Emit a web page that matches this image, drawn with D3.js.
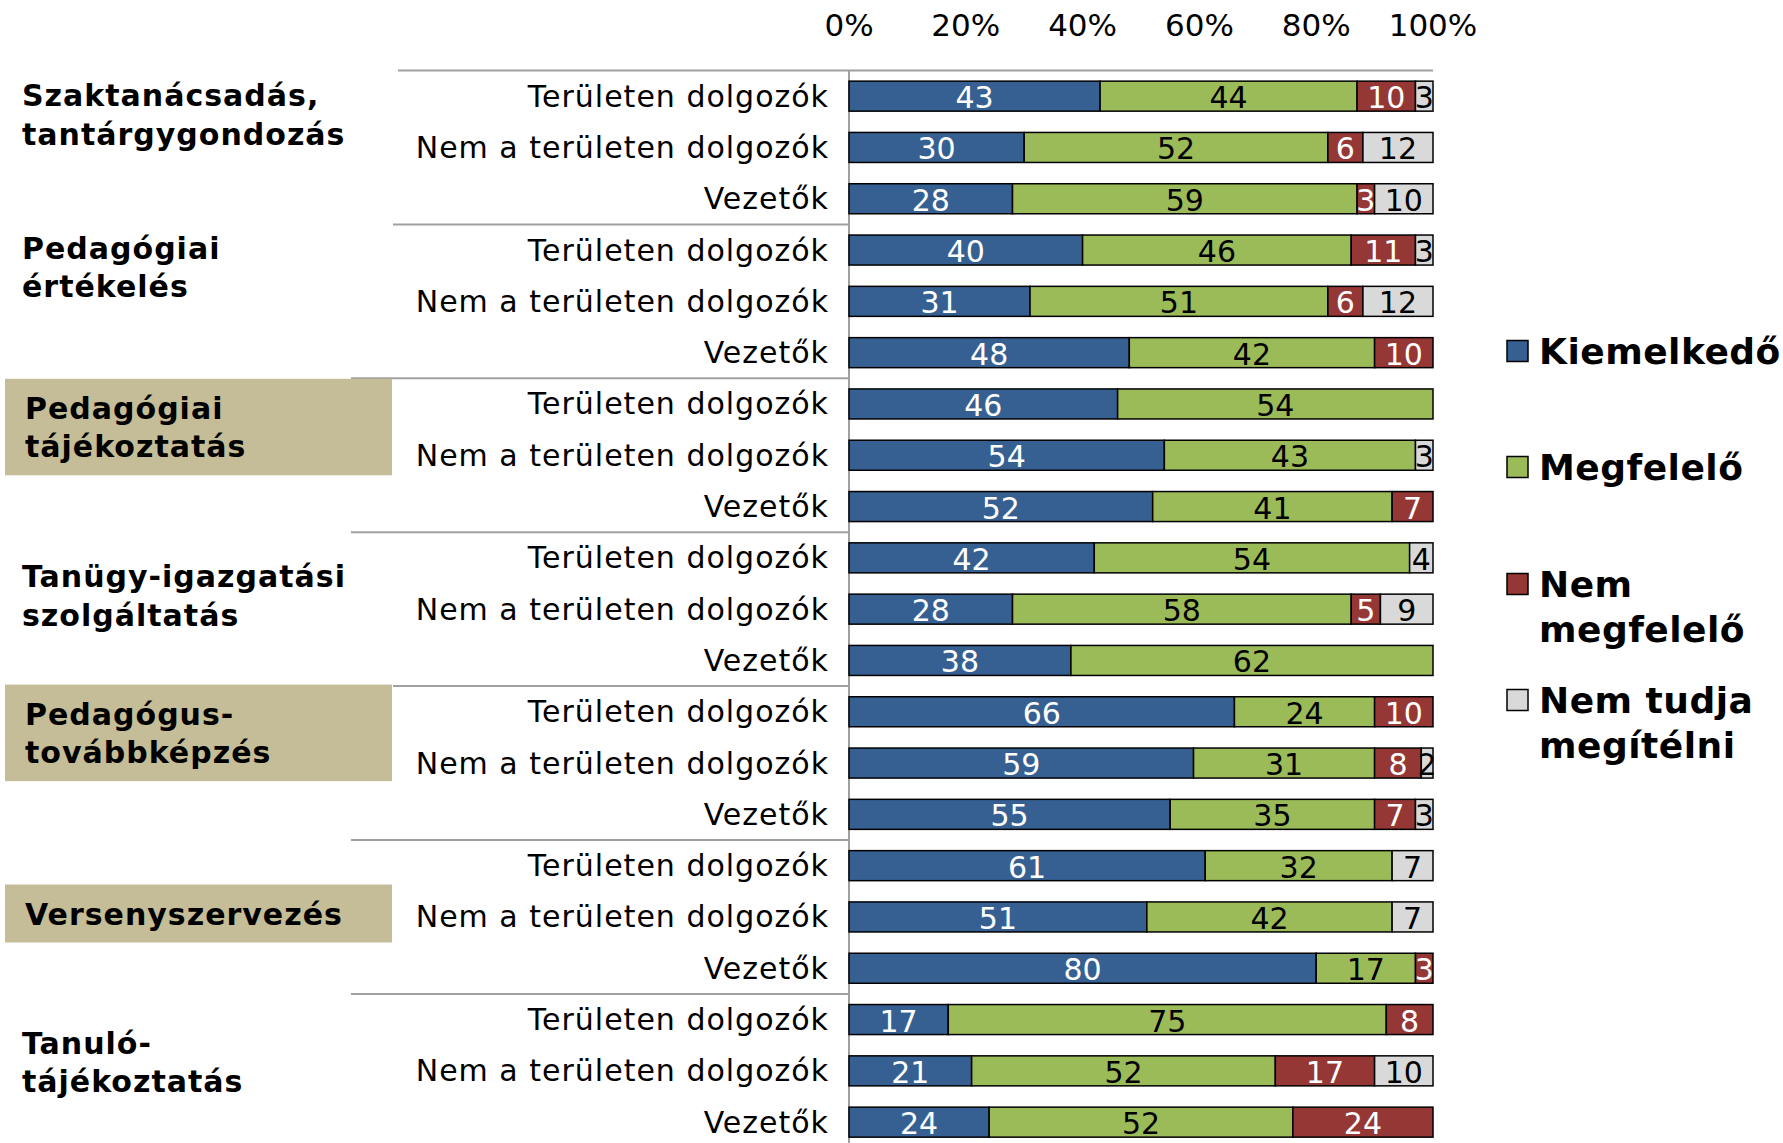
<!DOCTYPE html>
<html>
<head>
<meta charset="utf-8">
<script src="https://cdn.jsdelivr.net/npm/d3@7"></script>
<style>
  html, body { margin: 0; padding: 0; background: #fff; }
  svg { display: block; font-family: "DejaVu Sans", Verdana, sans-serif; }
</style>
</head>
<body>
<div id="chart"></div>
<script>
// --- DONNÉES ---
const groups = [
    ["Szaktanácsadás,", "tantárgygondozás"],
    ["Pedagógiai", "értékelés"],
    ["Pedagógiai", "tájékoztatás"],
    ["Tanügy-igazgatási", "szolgáltatás"],
    ["Pedagógus-", "továbbképzés"],
    ["Versenyszervezés"],
    ["Tanuló-", "tájékoztatás"]
];
const highlighted = [2, 4, 5];
const respondents = ["Területen dolgozók", "Nem a területen dolgozók", "Vezetők"];
const seriesNames = [["Kiemelkedő"], ["Megfelelő"], ["Nem", "megfelelő"], ["Nem tudja", "megítélni"]];
const ticks = [0, 20, 40, 60, 80, 100];

const kiemelkedo   = [43, 30, 28, 40, 31, 48, 46, 54, 52, 42, 28, 38, 66, 59, 55, 61, 51, 80, 17, 21, 24];
const megfelelo    = [44, 52, 59, 46, 51, 42, 54, 43, 41, 54, 58, 62, 24, 31, 35, 32, 42, 17, 75, 52, 52];
const nemMegfelelo = [10,  6,  3, 11,  6, 10,  0,  0,  7,  0,  5,  0, 10,  8,  7,  0,  0,  3,  8, 17, 24];
const nemTudja     = [ 3, 12, 10,  3, 12,  0,  0,  3,  0,  4,  9,  0,  0,  2,  3,  7,  7,  0,  0, 10,  0];

// --- MISE EN PAGE ---
const W = 1783, H = 1143;
const colors = ["#376092", "#9bbb59", "#953735", "#d9d9d9"];
const textColors = ["#fff", "#000", "#fff", "#000"];
const labelTop = [25, 24, 30, 44.5, 28, 74, 49.5]; // centre de la 1re ligne / haut du groupe
const lineStart = [398, 393, 351, 351, 393, 351, 351];

const rows = [];
groups.forEach((g, gi) => respondents.forEach((r, ri) => {
    const i = gi * 3 + ri;
    rows.push({ id: i, group: gi, label: r,
        k0: kiemelkedo[i], k1: megfelelo[i], k2: nemMegfelelo[i], k3: nemTudja[i] });
}));

const plotTop = 70.5, step = 51.3;
const x = d3.scaleLinear().domain([0, 100]).range([849, 1433]);
const y = d3.scaleBand().domain(rows.map(d => d.id))
    .range([plotTop, plotTop + rows.length * step]).paddingInner(0.415).paddingOuter(0.2075);

const stack = d3.stack().keys(["k0", "k1", "k2", "k3"]);
const layers = stack(rows);

const svg = d3.select("#chart").append("svg").attr("width", W).attr("height", H);

// Axe du haut (étiquettes seulement)
svg.append("g").selectAll("text").data(ticks).join("text")
    .attr("x", d => x(d)).attr("y", 25).attr("dy", "0.35em")
    .attr("text-anchor", "middle").style("font-size", "31px").text(d => d + "%");

// Lignes de séparation
svg.append("line").attr("x1", lineStart[0]).attr("x2", x(100))
    .attr("y1", plotTop).attr("y2", plotTop).attr("stroke", "#a0a0a0").attr("stroke-width", 2);
svg.append("g").selectAll("line").data(groups.slice(1)).join("line")
    .attr("x1", (d, i) => lineStart[i + 1]).attr("x2", x(0))
    .attr("y1", (d, i) => plotTop + (i + 1) * 3 * step).attr("y2", (d, i) => plotTop + (i + 1) * 3 * step)
    .attr("stroke", "#a0a0a0").attr("stroke-width", 2);
svg.append("line").attr("x1", x(0)).attr("x2", x(0)).attr("y1", plotTop).attr("y2", H)
    .attr("stroke", "#a0a0a0").attr("stroke-width", 2);

// Étiquettes de groupe
const lh = 38.5;
const gl = svg.append("g").selectAll("g").data(groups).join("g");
gl.each(function (d, gi) {
    const c0 = plotTop + gi * 3 * step + labelTop[gi];
    const c1 = c0 + (d.length - 1) * lh;
    const g = d3.select(this);
    if (highlighted.includes(gi)) {
        g.append("rect").attr("x", 5).attr("width", 387)
            .attr("y", c0 - 29.5).attr("height", c1 - c0 + 58).attr("fill", "#c4bd97");
    }
    const xx = highlighted.includes(gi) ? 25 : 22;
    g.selectAll("text").data(d).join("text")
        .attr("x", xx).attr("y", (t, j) => c0 + j * lh).attr("dy", "0.35em")
        .style("font-size", "30px").style("font-weight", "bold").style("letter-spacing", "1px")
        .text(t => t);
});

// Étiquettes des lignes
svg.append("g").selectAll("text").data(rows).join("text")
    .attr("x", 829).attr("y", d => y(d.id) + y.bandwidth() / 2).attr("dy", "0.35em")
    .attr("text-anchor", "end").style("font-size", "30px").style("letter-spacing", "1px")
    .text(d => d.label);

// Barres
const layer = svg.append("g").selectAll("g").data(layers).join("g")
    .attr("fill", (d, i) => colors[i]);
layer.selectAll("rect").data(d => d.filter(s => s[1] > s[0])).join("rect")
    .attr("x", s => x(s[0])).attr("width", s => x(s[1]) - x(s[0]))
    .attr("y", s => y(s.data.id)).attr("height", y.bandwidth())
    .attr("stroke", "#000").attr("stroke-width", 1.5);

// Valeurs
layers.forEach((L, li) => {
    svg.append("g").selectAll("text").data(L.filter(s => s[1] > s[0])).join("text")
        .attr("x", s => (x(s[0]) + x(s[1])) / 2)
        .attr("y", s => y(s.data.id) + y.bandwidth() / 2).attr("dy", "0.4em")
        .attr("text-anchor", "middle").attr("fill", textColors[li])
        .style("font-size", "30px").text(s => s[1] - s[0]);
});

// Légende
const legY = [351, 467, 584, 700];
const leg = svg.append("g").selectAll("g").data(seriesNames).join("g")
    .attr("transform", (d, i) => `translate(1507,${legY[i]})`);
leg.append("rect").attr("x", 0).attr("y", -10.5).attr("width", 21).attr("height", 21)
    .attr("fill", (d, i) => colors[i]).attr("stroke", "#000").attr("stroke-width", 1.5);
leg.each(function (d) {
    d3.select(this).selectAll("text").data(d).join("text")
        .attr("x", 32).attr("y", (t, j) => j * 45).attr("dy", "0.36em")
        .style("font-size", "36px").style("font-weight", "bold").style("letter-spacing", "0.5px")
        .text(t => t);
});
</script>
</body>
</html>
